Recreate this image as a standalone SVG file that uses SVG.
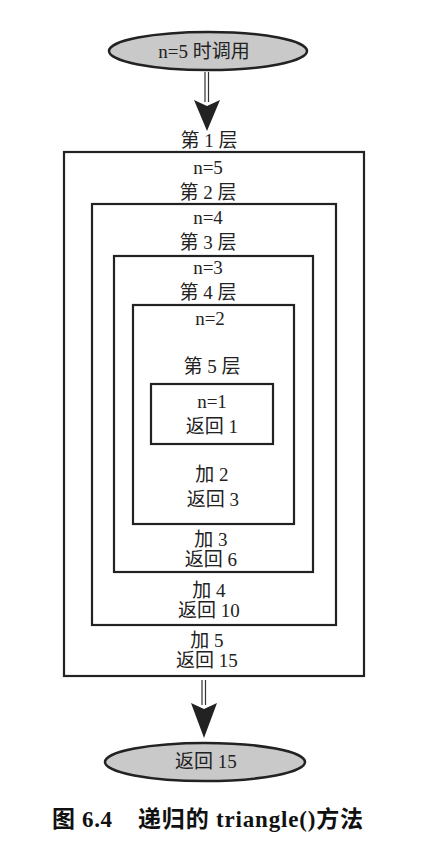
<svg xmlns="http://www.w3.org/2000/svg" width="424" height="858" viewBox="0 0 424 858">
<style>
.bg{fill:#ffffff}
.box{fill:none;stroke:#222;stroke-width:2.2}
.ell{fill:#c9c9c9;stroke:#222;stroke-width:2.5}
.t{font-family:"Liberation Serif","Noto Sans CJK SC",serif;font-size:19px;fill:#222;text-anchor:middle}
.te{font-family:"Liberation Serif","Noto Sans CJK SC",serif;font-size:19px;fill:#222;text-anchor:middle}
.cap{font-family:"Liberation Serif","Noto Sans CJK SC",serif;font-size:23px;font-weight:bold;fill:#111}
.dl{stroke:#333;stroke-width:1.2;fill:none}
.ah{fill:#222}
</style>
<rect class="bg" x="0" y="0" width="424" height="858"/>
<g id="connectors">
  <line class="dl" x1="205" y1="72" x2="205" y2="102"/>
  <line class="dl" x1="208.5" y1="72" x2="208.5" y2="102"/>
  <path class="ah" d="M194,100 L207,106 L220,100 L207,131 Z"/>
  <line class="dl" x1="202" y1="680" x2="202" y2="705"/>
  <line class="dl" x1="205.5" y1="680" x2="205.5" y2="705"/>
  <path class="ah" d="M191,703 L204,709 L217,703 L204,738 Z"/>
</g>
<g id="start">
  <ellipse class="ell" cx="208" cy="51" rx="99" ry="19"/>
  <text class="te" x="204" y="58">n=5 时调用</text>
</g>
<g id="level1">
  <text class="t" x="209" y="147">第 1 层</text>
  <rect class="box" x="64" y="152" width="300" height="524"/>
  <text class="t" x="208" y="174">n=5</text>
  <text class="t" x="207" y="647">加 5</text>
  <text class="t" x="207" y="667">返回 15</text>
</g>
<g id="level2">
  <text class="t" x="208" y="199">第 2 层</text>
  <rect class="box" x="92" y="204" width="244" height="421"/>
  <text class="t" x="208" y="224">n=4</text>
  <text class="t" x="209" y="597">加 4</text>
  <text class="t" x="209" y="617">返回 10</text>
</g>
<g id="level3">
  <text class="t" x="208" y="249">第 3 层</text>
  <rect class="box" x="114" y="256" width="199" height="316"/>
  <text class="t" x="208" y="274">n=3</text>
  <text class="t" x="211" y="546">加 3</text>
  <text class="t" x="211" y="566">返回 6</text>
</g>
<g id="level4">
  <text class="t" x="208" y="299">第 4 层</text>
  <rect class="box" x="133" y="305" width="161" height="219"/>
  <text class="t" x="210" y="325">n=2</text>
  <text class="t" x="212" y="373">第 5 层</text>
  <text class="t" x="212" y="481">加 2</text>
  <text class="t" x="213" y="506">返回 3</text>
</g>
<g id="level5">
  <rect class="box" x="151" y="384" width="122" height="60"/>
  <text class="t" x="212" y="408">n=1</text>
  <text class="t" x="212" y="433">返回 1</text>
</g>
<g id="end">
  <ellipse class="ell" cx="205" cy="762" rx="100" ry="19"/>
  <text class="te" x="206" y="768">返回 15</text>
</g>
<g id="caption">
  <text class="cap" x="52" y="827" textLength="60" lengthAdjust="spacing">图 6.4</text>
  <text class="cap" x="138" y="827" textLength="225" lengthAdjust="spacing">递归的 triangle()方法</text>
</g>
</svg>
